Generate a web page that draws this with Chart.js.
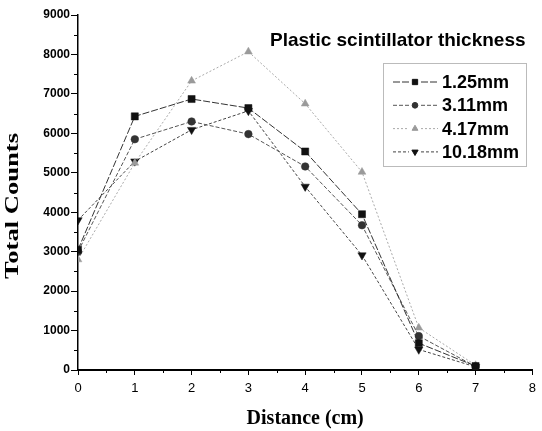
<!DOCTYPE html>
<html>
<head>
<meta charset="utf-8">
<script src="https://cdn.jsdelivr.net/npm/chart.js@4/dist/chart.umd.min.js"></script>
<style>
html,body{margin:0;padding:0;background:#fff;}
#c{display:block;}
</style>
</head>
<body>
<canvas id="c" width="542" height="431"></canvas>
<script>
const distances = [0, 1, 2, 3, 4, 5, 6, 7];
const seriesNames = ['1.25mm', '3.11mm', '4.17mm', '10.18mm'];
const counts125 = [3050, 6430, 6870, 6640, 5540, 3950, 680, 100];
const counts311 = [3000, 5850, 6300, 5980, 5160, 3670, 860, 90];
const counts417 = [2800, 5250, 7330, 8070, 6750, 5020, 1070, 120];
const counts1018 = [3800, 5290, 6090, 6570, 4650, 2910, 520, 80];
const xTicks = [0, 1, 2, 3, 4, 5, 6, 7, 8];
const yTicks = [0, 1000, 2000, 3000, 4000, 5000, 6000, 7000, 8000, 9000];
const legendTitle = 'Plastic scintillator thickness';
const xTitle = 'Distance (cm)';
const yTitle = 'Total Counts';

const styles = [
  {pointStyle: 'rect', rot: 0, r: 5, pc: '#111', lc: '#333', dash: [7, 2]},
  {pointStyle: 'circle', rot: 0, r: 3.8, pc: '#333', lc: '#555', dash: [4, 2]},
  {pointStyle: 'triangle', rot: 0, r: 4.5, pc: '#9a9a9a', lc: '#aaa', dash: [2, 2]},
  {pointStyle: 'triangle', rot: 180, r: 4.8, pc: '#111', lc: '#444', dash: [3, 2]}
];
const allSeries = [counts125, counts311, counts417, counts1018];

const datasets = allSeries.map((vals, i) => ({
  label: seriesNames[i],
  data: distances.map((d, j) => ({x: d, y: vals[j]})),
  borderColor: styles[i].lc,
  borderWidth: 1,
  borderDash: styles[i].dash,
  backgroundColor: styles[i].pc,
  pointBackgroundColor: styles[i].pc,
  pointBorderColor: styles[i].pc,
  pointBorderWidth: 0.5,
  pointStyle: styles[i].pointStyle,
  pointRotation: styles[i].rot,
  pointRadius: styles[i].r,
  tension: 0,
  fill: false
}));

const extras = {
  id: 'extras',
  afterDraw(chart) {
    const ctx = chart.ctx;
    const xs = chart.scales.x, ys = chart.scales.y;
    const area = chart.chartArea;
    ctx.save();
    // minor ticks
    ctx.strokeStyle = '#000';
    ctx.lineWidth = 1;
    ctx.setLineDash([]);
    for (let k = 0; k < yTicks.length - 1; k++) {
      const v = (yTicks[k] + yTicks[k + 1]) / 2;
      const py = Math.round(ys.getPixelForValue(v)) + 0.5;
      ctx.beginPath(); ctx.moveTo(area.left - 4, py); ctx.lineTo(area.left, py); ctx.stroke();
    }
    for (let k = 0; k < xTicks.length - 1; k++) {
      const v = (xTicks[k] + xTicks[k + 1]) / 2;
      const px = Math.round(xs.getPixelForValue(v)) + 0.5;
      ctx.beginPath(); ctx.moveTo(px, area.bottom); ctx.lineTo(px, area.bottom + 3); ctx.stroke();
    }
    // y title
    ctx.save();
    ctx.translate(13, 206);
    ctx.rotate(-Math.PI / 2);
    ctx.scale(1.4, 1);
    ctx.font = 'bold 19px "Liberation Serif", "DejaVu Serif", serif';
    ctx.fillStyle = '#000';
    ctx.textAlign = 'center';
    ctx.textBaseline = 'middle';
    ctx.fillText(yTitle, 0, 0);
    ctx.restore();
    // legend
    ctx.fillStyle = '#000';
    ctx.font = 'bold 19px "Liberation Sans", Arial, sans-serif';
    ctx.textAlign = 'left';
    ctx.textBaseline = 'alphabetic';
    ctx.fillText(legendTitle, 270, 46);
    ctx.strokeStyle = '#777';
    ctx.lineWidth = 1;
    ctx.setLineDash([1, 1]);
    ctx.strokeRect(383.5, 63.5, 143, 103);
    ctx.font = 'bold 18px "Liberation Sans", Arial, sans-serif';
    ctx.textBaseline = 'middle';
    seriesNames.forEach((name, i) => {
      const y = 82 + i * 23.3;
      const st = styles[i];
      ctx.strokeStyle = st.lc;
      ctx.lineWidth = 1;
      ctx.setLineDash(st.dash);
      ctx.beginPath(); ctx.moveTo(393, y); ctx.lineTo(409, y); ctx.stroke();
      ctx.beginPath(); ctx.moveTo(421, y); ctx.lineTo(438, y); ctx.stroke();
      ctx.setLineDash([]);
      ctx.fillStyle = st.pc;
      ctx.strokeStyle = st.pc;
      Chart.helpers.drawPoint(ctx, {pointStyle: st.pointStyle, rotation: st.rot, radius: st.r * 0.75, borderWidth: 0.5}, 415, y);
      ctx.fillStyle = '#000';
      ctx.fillText(name, 442, y + 1);
    });
    ctx.restore();
  }
};

new Chart(document.getElementById('c'), {
  type: 'line',
  data: {datasets},
  options: {
    responsive: false,
    animation: false,
    devicePixelRatio: 1,
    layout: {padding: {top: 15, right: 0, left: 0, bottom: 0}},
    plugins: {legend: {display: false}, tooltip: {enabled: false}},
    scales: {
      x: {
        type: 'linear',
        min: 0, max: 8,
        afterBuildTicks: (s) => { s.ticks = xTicks.map(v => ({value: v})); },
        afterFit: (s) => { s.height = 61; },
        grid: {drawOnChartArea: false, tickLength: 5, tickColor: '#000', tickWidth: 1},
        border: {color: '#000', width: 2},
        ticks: {color: '#000', padding: 6, maxRotation: 0,
          callback: (v) => String(v),
          font: {family: '"Liberation Sans", Arial, sans-serif', size: 13}},
        title: {display: true, text: xTitle, color: '#000', padding: {top: 0, bottom: 0},
          font: {family: '"Liberation Serif", "DejaVu Serif", serif', size: 20, weight: 'bold'}}
      },
      y: {
        type: 'linear',
        min: 0, max: 9000,
        afterBuildTicks: (s) => { s.ticks = yTicks.map(v => ({value: v})); },
        afterFit: (s) => { s.width = 78; },
        grid: {drawOnChartArea: false, tickLength: 7, tickColor: '#000', tickWidth: 1},
        border: {color: '#000', width: 1.5},
        ticks: {color: '#000', padding: 1,
          callback: (v) => String(v),
          font: {family: '"Liberation Sans", Arial, sans-serif', size: 12, weight: 'bold'}},
        title: {display: false}
      }
    }
  },
  plugins: [extras]
});
</script>
</body>
</html>
